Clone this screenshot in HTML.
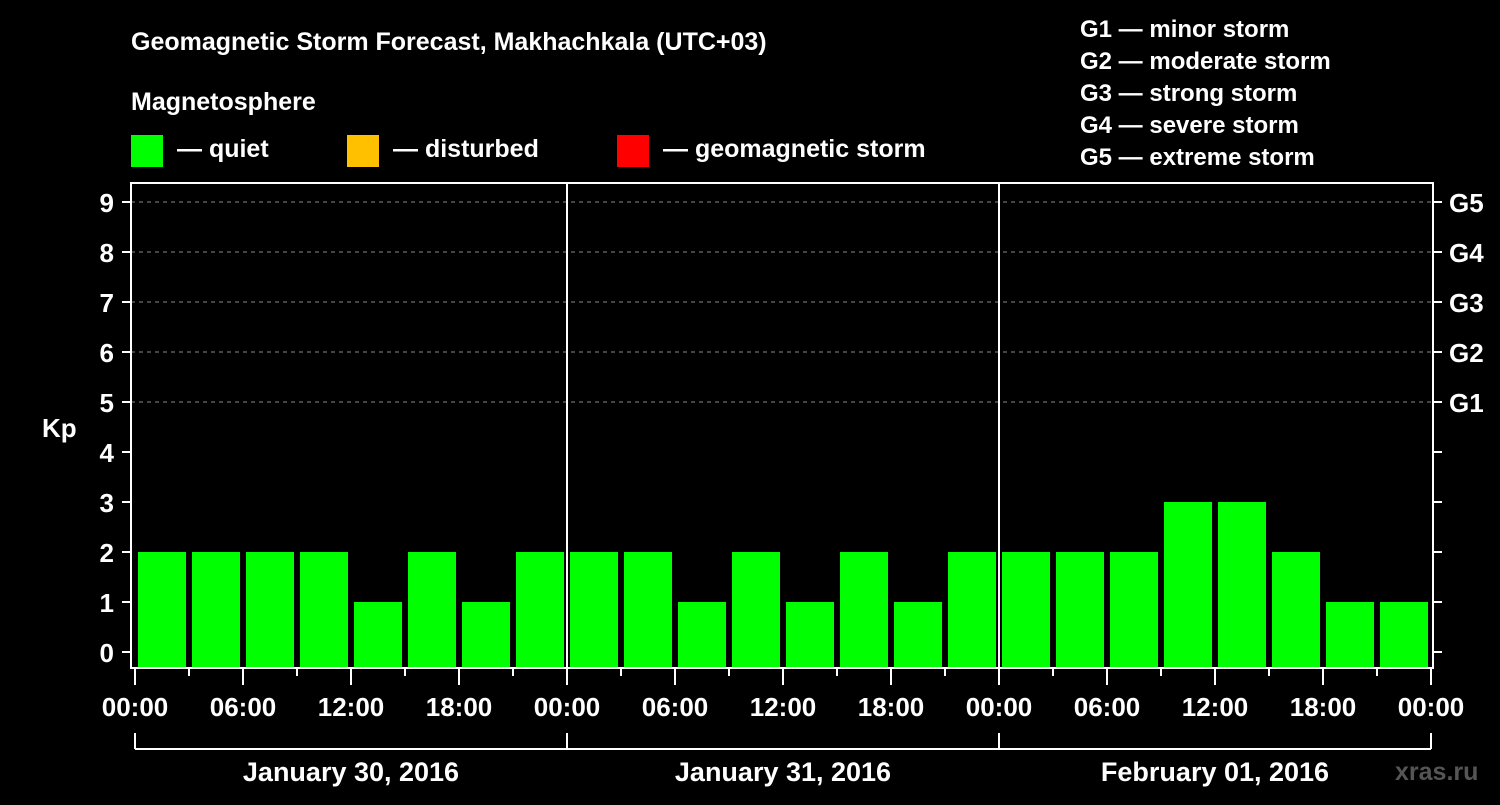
<!DOCTYPE html>
<html><head><meta charset="utf-8"><style>
body{margin:0;background:#000;width:1500px;height:800px;overflow:hidden}
svg text{font-family:"Liberation Sans",Arial,sans-serif;font-weight:bold;fill:#fff}
</style></head><body>
<svg id="chart" width="1500" height="800" viewBox="0 0 1500 800">
<rect width="1500" height="800" fill="#000"/>
<text x="131" y="50" font-size="25">Geomagnetic Storm Forecast, Makhachkala (UTC+03)</text>
<text x="131" y="110" font-size="25">Magnetosphere</text>
<g>
<rect x="131" y="135" width="32" height="32" fill="#00ff00"/>
<text x="177" y="157" font-size="25">— quiet</text>
<rect x="347" y="135" width="32" height="32" fill="#ffc000"/>
<text x="393" y="157" font-size="25">— disturbed</text>
<rect x="617" y="135" width="32" height="32" fill="#ff0000"/>
<text x="663" y="157" font-size="25">— geomagnetic storm</text>
</g>
<g font-size="24">
<text x="1080" y="37">G1 — minor storm</text>
<text x="1080" y="69">G2 — moderate storm</text>
<text x="1080" y="101">G3 — strong storm</text>
<text x="1080" y="133">G4 — severe storm</text>
<text x="1080" y="165">G5 — extreme storm</text>
</g>
<text x="42" y="437" font-size="26">Kp</text>
<text x="1395" y="780" font-size="25" style="fill:#555">xras.ru</text>
<g id="grid"></g><g id="bars"></g><g id="axes"></g>
</svg>
<script>
const kpValues=[2,2,2,2,1,2,1,2, 2,2,1,2,1,2,1,2, 2,2,2,3,3,2,1,1];
const yTicks=[0,1,2,3,4,5,6,7,8,9];
const gLabels=["G1","G2","G3","G4","G5"];
const gLevels=[5,6,7,8,9];
const hourLabels=["00:00","06:00","12:00","18:00"];
const dayLabels=["January 30, 2016","January 31, 2016","February 01, 2016"];
const NS="http://www.w3.org/2000/svg";
const L=131,R=1433,T=183,B=668,X0=135,DAYW=432;
const y=v=>652-v*50;
const x=h=>X0+h*DAYW/24;
function mk(tag,attrs,parent,txt){const e=document.createElementNS(NS,tag);for(const k in attrs)e.setAttribute(k,attrs[k]);if(txt!==undefined)e.textContent=txt;document.getElementById(parent).appendChild(e);return e;}
gLevels.forEach((lv,i)=>{
 const g=mk('line',{x1:L,x2:R,y1:y(lv),y2:y(lv),stroke:'#888','stroke-dasharray':'4,4','stroke-width':1},'grid');
 
 
 const t=mk('text',{x:1449,y:y(lv)+10,'font-size':26},'axes',gLabels[i]);
 
 
});
kpValues.forEach((v,i)=>{
 const col=v>=5?'#ff0000':(v>=4?'#ffc000':'#00ff00');
 const r=mk('rect',{x:x(i*3)+3,y:y(v),width:DAYW/8-6,height:B-y(v),fill:col},'bars');
 
 
});
const f=mk('rect',{x:L,y:T,width:R-L,height:B-T,fill:'none',stroke:'#fff','stroke-width':2},'axes');


for(let d=1;d<3;d++){const s=mk('line',{x1:x(d*24),x2:x(d*24),y1:T,y2:B,stroke:'#fff','stroke-width':2},'axes');
 
 }
yTicks.forEach(v=>{
 mk('line',{x1:122,x2:L,y1:y(v),y2:y(v),stroke:'#fff','stroke-width':2},'axes');
 mk('line',{x1:R,x2:1442,y1:y(v),y2:y(v),stroke:'#fff','stroke-width':2},'axes');
 const t=mk('text',{x:114,y:y(v)+10,'font-size':26,'text-anchor':'end'},'axes',v);
 
 
});
for(let h=0;h<=72;h+=3){
 const major=h%6===0;
 mk('line',{x1:x(h),x2:x(h),y1:B,y2:major?685:676,stroke:'#fff','stroke-width':2},'axes');
 if(major&&h%6===0&&(h%24)%6===0){
  const lab=hourLabels[(h%24)/6];
  const t=mk('text',{x:x(h),y:716,'font-size':26,'text-anchor':'middle'},'axes',lab);
  
  
 }
}
mk('line',{x1:x(0),x2:x(72),y1:749,y2:749,stroke:'#fff','stroke-width':2},'axes');
for(let d=0;d<=3;d++) mk('line',{x1:x(d*24),x2:x(d*24),y1:733,y2:749,stroke:'#fff','stroke-width':2},'axes');
dayLabels.forEach((s,d)=>{
 const t=mk('text',{x:x(d*24+12),y:781,'font-size':27,'text-anchor':'middle'},'axes',s);
 
 
});
</script>
</body></html>
